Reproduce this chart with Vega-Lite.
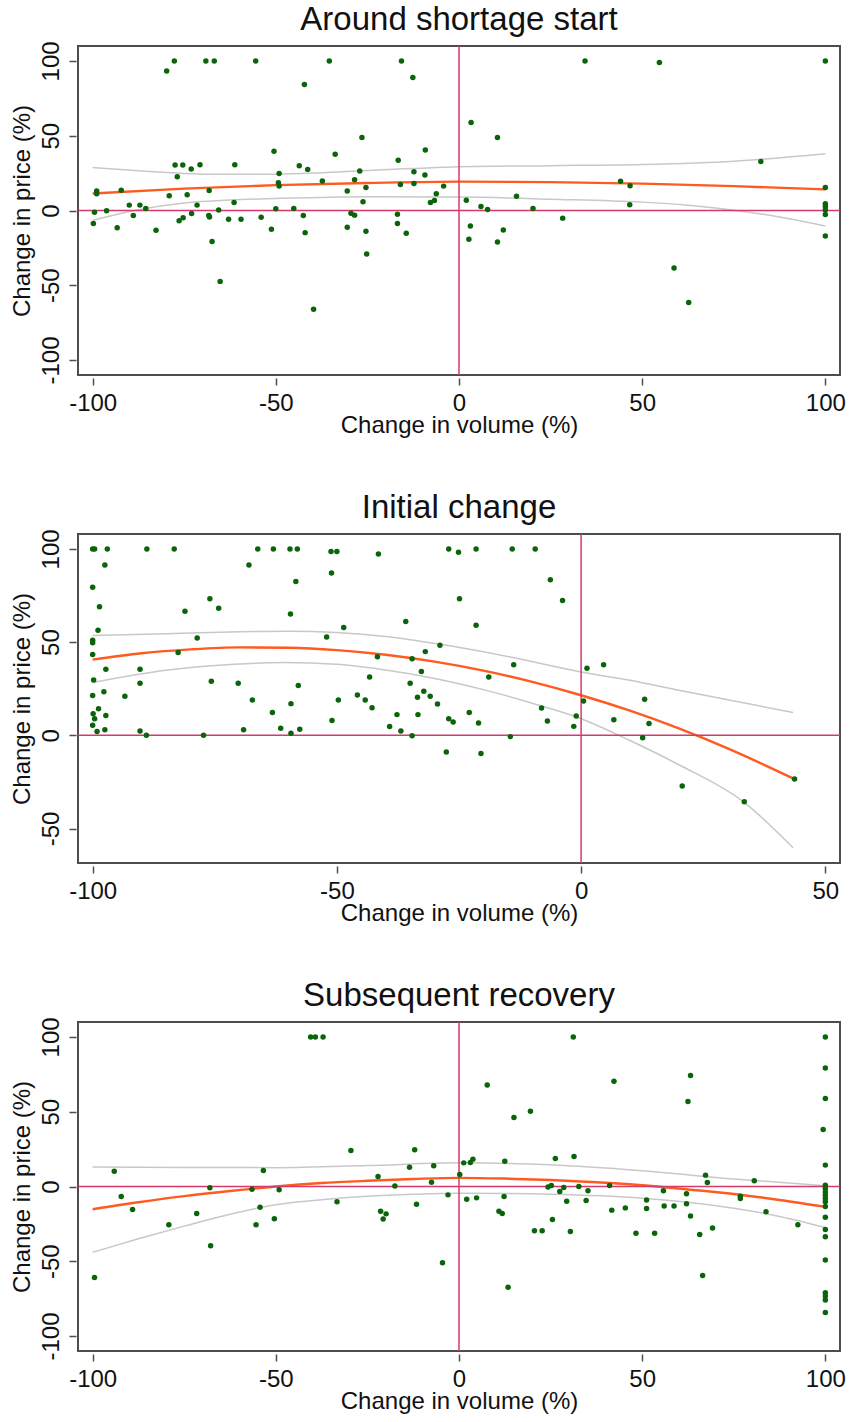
{
  "$schema": "https://vega.github.io/schema/vega-lite/v6.json",
  "padding": {"left": 9, "top": 2, "right": 8, "bottom": 2},
  "spacing": 52,
  "config": {
    "font": "Liberation Sans",
    "view": {"stroke": "#4d4d4d", "strokeWidth": 2},
    "axis": {"grid": false, "domain": false, "tickColor": "#4d4d4d", "tickWidth": 1.5, "tickSize": 7, "labelFontSize": 24, "titleFontSize": 24, "labelColor": "#111", "titleColor": "#111", "titleFontWeight": "normal", "labelFont": "Liberation Sans", "titleFont": "Liberation Sans", "labelOverlap": false, "labelFlush": false, "labelExpr": "replace(datum.label, '\u2212', '-')"},
    "axisX": {"offset": 3, "labelPadding": 6, "titlePadding": -2},
    "axisY": {"offset": 2, "labelAngle": -90, "labelAlign": "center", "labelBaseline": "bottom", "labelPadding": 6, "titlePadding": 5},
    "title": {"fontSize": 33, "fontWeight": "normal", "color": "#111", "font": "Liberation Sans", "offset": 4, "anchor": "middle"}
  },
  "datasets": {
    "p1": [
      {"x":-79.8,"y":93.3},{"x":-77.7,"y":100},{"x":-69.1,"y":100},{"x":-66.8,"y":100},{"x":-55.5,"y":100},{"x":-35.4,"y":100},{"x":-42.2,"y":84.3},{"x":-15.7,"y":100},{"x":-12.6,"y":89},{"x":-26.5,"y":48.8},{"x":-50.5,"y":39.6},{"x":-33.8,"y":37.6},{"x":-9.2,"y":40.5},{"x":-16.6,"y":33.6},{"x":-77.5,"y":30.4},{"x":-75.4,"y":30.4},{"x":-70.7,"y":30.6},{"x":-61.2,"y":30.6},{"x":-43.6,"y":30},{"x":-73.1,"y":27.7},{"x":-41.3,"y":27.5},{"x":-76.9,"y":22.6},{"x":-27.1,"y":26.4},{"x":-49.1,"y":24.8},{"x":-12.3,"y":25.9},{"x":-9.3,"y":23.7},{"x":-37.3,"y":19.7},{"x":-28.5,"y":20.6},{"x":-49.3,"y":18.6},{"x":-49.1,"y":16.3},{"x":-25.4,"y":15.4},{"x":-16,"y":17.4},{"x":-12.3,"y":18.1},{"x":-4.2,"y":16.3},{"x":-98.9,"y":13},{"x":-98.9,"y":11.2},{"x":-92.2,"y":13.6},{"x":-68.2,"y":13.4},{"x":-79.1,"y":9.8},{"x":-74.2,"y":10.5},{"x":-30.5,"y":13},{"x":-6.2,"y":11.2},{"x":-6.7,"y":6.7},{"x":-7.8,"y":5.4},{"x":-26.2,"y":5.8},{"x":-61.4,"y":5.4},{"x":-71.5,"y":3.6},{"x":-90,"y":3.6},{"x":-87.1,"y":3.6},{"x":-85.5,"y":1.3},{"x":-65.6,"y":0.4},{"x":-50,"y":1.1},{"x":-45.1,"y":1.3},{"x":-99.5,"y":-1.1},{"x":-96.2,"y":-0.2},{"x":-88.9,"y":-3.4},{"x":-73,"y":-2},{"x":-68.3,"y":-3.4},{"x":-68.1,"y":-4.3},{"x":-75.3,"y":-4.9},{"x":-76.4,"y":-6.9},{"x":-62.9,"y":-5.8},{"x":-59.5,"y":-5.8},{"x":-54,"y":-4.5},{"x":-42.5,"y":-3.4},{"x":-29.5,"y":-1.8},{"x":-28.5,"y":-3.1},{"x":-16.8,"y":-2.5},{"x":-16.8,"y":-8.7},{"x":-99.8,"y":-8.7},{"x":-93.3,"y":-11.6},{"x":-82.7,"y":-13.2},{"x":-51.2,"y":-12.5},{"x":-42,"y":-14.8},{"x":-30.5,"y":-11.2},{"x":-25.4,"y":-13.9},{"x":-14.4,"y":-15.2},{"x":-67.4,"y":-20.8},{"x":-25.2,"y":-29.1},{"x":-65.2,"y":-47.4},{"x":-39.7,"y":-66},
      {"x":34.4,"y":100},{"x":54.7,"y":98.9},{"x":100,"y":100},{"x":3.3,"y":58.8},{"x":10.5,"y":48.8},{"x":82.4,"y":32.7},{"x":44.1,"y":19.5},{"x":46.7,"y":16.6},{"x":100,"y":15.4},{"x":15.7,"y":9.6},{"x":2,"y":6.9},{"x":46.6,"y":3.8},{"x":6,"y":2.7},{"x":7.8,"y":0.7},{"x":20.2,"y":1.3},{"x":100,"y":4.5},{"x":100,"y":2.7},{"x":100,"y":0.4},{"x":100,"y":-2.7},{"x":28.3,"y":-5.1},{"x":3.1,"y":-10.3},{"x":12.1,"y":-13},{"x":2.7,"y":-19.2},{"x":10.5,"y":-21},{"x":100,"y":-17},{"x":58.7,"y":-38.5},{"x":62.7,"y":-61.5}
    ],
    "f1": [
      {"s":"fit","x":-100,"y":11.4},{"s":"fit","x":-75,"y":14.6},{"s":"fit","x":-50,"y":17},{"s":"fit","x":-25,"y":18.4},{"s":"fit","x":0,"y":19.3},{"s":"fit","x":25,"y":19},{"s":"fit","x":50,"y":18},{"s":"fit","x":75,"y":16.3},{"s":"fit","x":100,"y":14.1},
      {"s":"hi","x":-100,"y":28.7},{"s":"hi","x":-87.5,"y":26.5},{"s":"hi","x":-75,"y":24.8},{"s":"hi","x":-62.5,"y":24.2},{"s":"hi","x":-50,"y":24.3},{"s":"hi","x":-37.5,"y":25.3},{"s":"hi","x":-25,"y":26.8},{"s":"hi","x":-12.5,"y":28.1},{"s":"hi","x":0,"y":29.3},{"s":"hi","x":25,"y":30},{"s":"hi","x":50,"y":30.8},{"s":"hi","x":75,"y":33},{"s":"hi","x":100,"y":38},
      {"s":"lo","x":-100,"y":-6.5},{"s":"lo","x":-87.5,"y":0.5},{"s":"lo","x":-75,"y":5},{"s":"lo","x":-62.5,"y":7},{"s":"lo","x":-50,"y":8},{"s":"lo","x":-25,"y":9.2},{"s":"lo","x":0,"y":9},{"s":"lo","x":25,"y":7.6},{"s":"lo","x":50,"y":5.6},{"s":"lo","x":62.5,"y":3.5},{"s":"lo","x":75,"y":0.2},{"s":"lo","x":87.5,"y":-4.3},{"s":"lo","x":100,"y":-10.3}
    ],
    "p2": [
      {"x":-100,"y":100},{"x":-99.6,"y":100},{"x":-97,"y":100},{"x":-88.9,"y":100},{"x":-83.3,"y":100},{"x":-66.2,"y":100},{"x":-63,"y":100},{"x":-59.6,"y":100},{"x":-58.1,"y":100},{"x":-51.2,"y":98.6},{"x":-50,"y":98.6},{"x":-41.5,"y":97.3},{"x":-97.5,"y":91.4},{"x":-68,"y":91.4},{"x":-51.1,"y":87.1},{"x":-58.4,"y":82.5},{"x":-100,"y":79.4},{"x":-76,"y":73.3},{"x":-98.6,"y":69},{"x":-74.2,"y":68.2},{"x":-81.1,"y":66.5},{"x":-59.5,"y":65.1},{"x":-35.9,"y":61},{"x":-48.6,"y":57.8},{"x":-98.9,"y":56.4},{"x":-52.1,"y":52.8},{"x":-78.6,"y":52.2},{"x":-100,"y":51},{"x":-100,"y":49.6},{"x":-28.9,"y":48.3},{"x":-82.5,"y":44.4},{"x":-100,"y":43.3},{"x":-41.7,"y":42.2},{"x":-34.6,"y":41.1},{"x":-31.9,"y":44.9},{"x":-97.3,"y":35.4},{"x":-90.3,"y":35.4},{"x":-32.7,"y":34.2},{"x":-43.3,"y":31.3},{"x":-75.7,"y":29},{"x":-99.8,"y":29.7},{"x":-90.3,"y":27.9},{"x":-70.2,"y":27.9},{"x":-57.9,"y":26.7},{"x":-35,"y":27.9},{"x":-97.7,"y":23.4},{"x":-32.2,"y":23.6},{"x":-100,"y":21.3},{"x":-93.4,"y":20.9},{"x":-45.8,"y":21.6},{"x":-30.9,"y":20.9},{"x":-33.5,"y":20.4},{"x":-67.3,"y":19},{"x":-49.7,"y":19},{"x":-44.2,"y":19},{"x":-59.4,"y":17},{"x":-29.4,"y":16.8},{"x":-98.8,"y":14.3},{"x":-42.8,"y":14.8},{"x":-63.2,"y":12.3},{"x":-99.9,"y":11.6},{"x":-97.3,"y":10.6},{"x":-37.7,"y":11.1},{"x":-33.4,"y":11.1},{"x":-99.6,"y":8.9},{"x":-51,"y":8},{"x":-100,"y":5.4},{"x":-39.2,"y":4.7},{"x":-69.1,"y":3},{"x":-97.5,"y":3},{"x":-61.5,"y":3.8},{"x":-57.6,"y":3.2},{"x":-99.1,"y":2},{"x":-90.3,"y":2.3},{"x":-36.9,"y":2.3},{"x":-59.4,"y":1.1},{"x":-89,"y":0},{"x":-77.3,"y":0},{"x":-34.6,"y":-0.2},
      {"x":-27.1,"y":100},{"x":-25.1,"y":98.2},{"x":-21.5,"y":100},{"x":-14.1,"y":100},{"x":-9.4,"y":100},{"x":-6.3,"y":83.4},{"x":-24.9,"y":73.3},{"x":-3.8,"y":72.3},{"x":-21.5,"y":59},{"x":-13.8,"y":37.9},{"x":1.2,"y":36},{"x":4.6,"y":37.9},{"x":-18.9,"y":31.3},{"x":-22.9,"y":12.2},{"x":-8.1,"y":14.7},{"x":-27.1,"y":8.9},{"x":-26.2,"y":7.2},{"x":-21,"y":6.6},{"x":-6.9,"y":7.7},{"x":-1.5,"y":4.8},{"x":-1,"y":10.4},{"x":0.5,"y":18.4},{"x":-14.5,"y":-0.7},{"x":-27.6,"y":-8.9},{"x":-20.5,"y":-9.8},{"x":13,"y":19.3},{"x":6.7,"y":8.4},{"x":13.9,"y":6.3},{"x":12.6,"y":-1.3},{"x":20.7,"y":-27.2},{"x":33.4,"y":-35.6},{"x":43.7,"y":-23.4}
    ],
    "f2": [
      {"s":"fit","x":-100,"y":40.6},{"s":"fit","x":-90,"y":44},{"s":"fit","x":-80,"y":46.1},{"s":"fit","x":-70,"y":47.2},{"s":"fit","x":-60,"y":47},{"s":"fit","x":-50,"y":45.7},{"s":"fit","x":-40,"y":43.2},{"s":"fit","x":-30,"y":39.5},{"s":"fit","x":-20,"y":34.7},{"s":"fit","x":-10,"y":28.7},{"s":"fit","x":0,"y":21.5},{"s":"fit","x":10,"y":13.2},{"s":"fit","x":20,"y":3.7},{"s":"fit","x":30,"y":-7},{"s":"fit","x":43.7,"y":-23.5},
      {"s":"hi","x":-100,"y":53.5},{"s":"hi","x":-85,"y":54.5},{"s":"hi","x":-70,"y":55.5},{"s":"hi","x":-60,"y":55.8},{"s":"hi","x":-50,"y":55.1},{"s":"hi","x":-40,"y":53},{"s":"hi","x":-28.8,"y":48.8},{"s":"hi","x":-14.5,"y":42},{"s":"hi","x":0,"y":34},{"s":"hi","x":10,"y":29.5},{"s":"hi","x":20,"y":24.2},{"s":"hi","x":30,"y":19.1},{"s":"hi","x":43.4,"y":12.2},
      {"s":"lo","x":-100,"y":28.3},{"s":"lo","x":-85,"y":34.9},{"s":"lo","x":-71,"y":38.1},{"s":"lo","x":-60.8,"y":39},{"s":"lo","x":-50,"y":38.1},{"s":"lo","x":-40,"y":35},{"s":"lo","x":-30,"y":30.5},{"s":"lo","x":-20,"y":24.5},{"s":"lo","x":-10,"y":17.2},{"s":"lo","x":0,"y":8.9},{"s":"lo","x":10,"y":-2.8},{"s":"lo","x":20,"y":-15.8},{"s":"lo","x":33.3,"y":-35.8},{"s":"lo","x":43.4,"y":-60.3}
    ],
    "p3": [
      {"x":-40.5,"y":100},{"x":-39.2,"y":100},{"x":-37.1,"y":100},{"x":-29.5,"y":24.1},{"x":-12.1,"y":24.5},{"x":-94.1,"y":10.2},{"x":-53.4,"y":10.7},{"x":-6.9,"y":13.8},{"x":-13.5,"y":12.9},{"x":-22.1,"y":6.7},{"x":0.2,"y":8},{"x":-7.5,"y":2.9},{"x":-17.5,"y":0.4},{"x":-68,"y":-0.9},{"x":-56.5,"y":-1.8},{"x":-49.1,"y":-2.2},{"x":-92.2,"y":-6.7},{"x":-3,"y":-5.6},{"x":-33.3,"y":-10.2},{"x":-11.6,"y":-11.8},{"x":-89.1,"y":-15.4},{"x":-54.3,"y":-13.8},{"x":-21.4,"y":-16.5},{"x":-19.9,"y":-18.3},{"x":-20.7,"y":-21.8},{"x":-71.6,"y":-18},{"x":-50.4,"y":-21.6},{"x":-79.2,"y":-25.6},{"x":-55.4,"y":-25.6},{"x":-67.8,"y":-39.6},{"x":-4.5,"y":-51},{"x":-99.5,"y":-60.8},
      {"x":31.2,"y":100},{"x":100,"y":100},{"x":100,"y":79.3},{"x":63.2,"y":74.2},{"x":42.3,"y":70.4},{"x":7.7,"y":67.9},{"x":100,"y":58.8},{"x":62.5,"y":56.8},{"x":19.5,"y":50.3},{"x":15,"y":46.1},{"x":99.4,"y":38.1},{"x":31.4,"y":20},{"x":3.8,"y":18.3},{"x":26.3,"y":18.7},{"x":12.5,"y":16.9},{"x":1.3,"y":15.8},{"x":3.1,"y":16},{"x":100,"y":14.3},{"x":67.3,"y":7.6},{"x":67.8,"y":2.7},{"x":80.6,"y":3.8},{"x":41.1,"y":0.7},{"x":24.3,"y":-0.4},{"x":25.2,"y":0.7},{"x":28.6,"y":-0.7},{"x":32.7,"y":0},{"x":27.5,"y":-3.3},{"x":35.2,"y":-2.9},{"x":55.8,"y":-2.9},{"x":62.1,"y":-4.9},{"x":100,"y":0.9},{"x":100,"y":-1.3},{"x":100,"y":-3.6},{"x":100,"y":-5.8},{"x":100,"y":-8},{"x":100,"y":-10.2},{"x":100,"y":-13.4},{"x":2.1,"y":-8.5},{"x":4.8,"y":-7.6},{"x":12.3,"y":-6.7},{"x":29.4,"y":-9.8},{"x":34.7,"y":-9.4},{"x":76.8,"y":-8},{"x":76.8,"y":-6.5},{"x":51.2,"y":-9.1},{"x":51.2,"y":-14.7},{"x":45.4,"y":-14.3},{"x":56,"y":-13.1},{"x":58.7,"y":-13.1},{"x":41.7,"y":-15.8},{"x":62.1,"y":-11.6},{"x":10.9,"y":-16.5},{"x":11.8,"y":-18},{"x":83.8,"y":-16.9},{"x":63.2,"y":-19.8},{"x":100,"y":-20.5},{"x":25.5,"y":-22},{"x":20.6,"y":-29.6},{"x":22.7,"y":-29.6},{"x":30.4,"y":-30.1},{"x":48.3,"y":-31.2},{"x":53.4,"y":-31.2},{"x":69.2,"y":-27.8},{"x":65.7,"y":-32.1},{"x":92.5,"y":-25.6},{"x":100,"y":-28.7},{"x":100,"y":-33.6},{"x":100,"y":-49.2},{"x":66.5,"y":-59.5},{"x":13.4,"y":-67.3},{"x":100,"y":-71},{"x":100,"y":-73.3},{"x":100,"y":-75.9},{"x":100,"y":-84.2}
    ],
    "f3": [
      {"s":"fit","x":-100,"y":-15.2},{"s":"fit","x":-87.5,"y":-10.5},{"s":"fit","x":-75,"y":-6.4},{"s":"fit","x":-62.5,"y":-3},{"s":"fit","x":-50,"y":0},{"s":"fit","x":-37.5,"y":2.3},{"s":"fit","x":-25,"y":3.8},{"s":"fit","x":-12.5,"y":5},{"s":"fit","x":0,"y":5.8},{"s":"fit","x":12.5,"y":5.3},{"s":"fit","x":25,"y":4.3},{"s":"fit","x":37.5,"y":2.8},{"s":"fit","x":50,"y":0.8},{"s":"fit","x":62.5,"y":-2},{"s":"fit","x":75,"y":-5},{"s":"fit","x":87.5,"y":-9},{"s":"fit","x":100,"y":-13.6},
      {"s":"hi","x":-100,"y":13.1},{"s":"hi","x":-75,"y":12.7},{"s":"hi","x":-50,"y":12.6},{"s":"hi","x":-25,"y":14},{"s":"hi","x":0,"y":15.8},{"s":"hi","x":25,"y":14.5},{"s":"hi","x":50,"y":10.5},{"s":"hi","x":75,"y":5},{"s":"hi","x":100,"y":0.5},
      {"s":"lo","x":-100,"y":-44},{"s":"lo","x":-87.5,"y":-35},{"s":"lo","x":-75,"y":-26.5},{"s":"lo","x":-62.5,"y":-18.5},{"s":"lo","x":-50,"y":-12.2},{"s":"lo","x":-37.5,"y":-8.8},{"s":"lo","x":-25,"y":-6.5},{"s":"lo","x":-12.5,"y":-5.2},{"s":"lo","x":0,"y":-4.5},{"s":"lo","x":25,"y":-5.2},{"s":"lo","x":50,"y":-7.8},{"s":"lo","x":62.5,"y":-10.5},{"s":"lo","x":75,"y":-14.5},{"s":"lo","x":87.5,"y":-20},{"s":"lo","x":100,"y":-27.4}
    ]
  },
  "vconcat": [
    {
      "width": 762, "height": 329,
      "title": "Around shortage start",
      "layer": [
        {"data": {"name": "f1"}, "transform": [{"filter": "datum.s != 'fit'"}], "mark": {"type": "line", "color": "#c8c8c8", "strokeWidth": 1.5, "interpolate": "monotone"},
         "encoding": {"x": {"field": "x", "type": "quantitative", "scale": {"domain": [-104, 104], "nice": false, "zero": false}, "axis": {"values": [-100, -50, 0, 50, 100], "title": "Change in volume (%)"}},
                      "y": {"field": "y", "type": "quantitative", "scale": {"domain": [-110, 110], "nice": false, "zero": false}, "axis": {"values": [-100, -50, 0, 50, 100], "title": "Change in price (%)"}},
                      "detail": {"field": "s"}}},
        {"data": {"name": "f1"}, "transform": [{"filter": "datum.s == 'fit'"}], "mark": {"type": "line", "color": "#ff5a1f", "strokeWidth": 2.4, "interpolate": "monotone"},
         "encoding": {"x": {"field": "x", "type": "quantitative"}, "y": {"field": "y", "type": "quantitative"}}},
        {"data": {"values": [{}]}, "mark": {"type": "rule", "color": "#d43a6c", "strokeWidth": 1.5}, "encoding": {"x": {"datum": 0, "type": "quantitative"}}},
        {"data": {"values": [{}]}, "mark": {"type": "rule", "color": "#d43a6c", "strokeWidth": 1.5}, "encoding": {"y": {"datum": 0, "type": "quantitative"}}},
        {"data": {"name": "p1"}, "mark": {"type": "circle", "color": "#0a640a", "size": 30, "opacity": 1},
         "encoding": {"x": {"field": "x", "type": "quantitative"}, "y": {"field": "y", "type": "quantitative"}}}
      ]
    },
    {
      "width": 762, "height": 329,
      "title": "Initial change",
      "layer": [
        {"data": {"name": "f2"}, "transform": [{"filter": "datum.s != 'fit'"}], "mark": {"type": "line", "color": "#c8c8c8", "strokeWidth": 1.5, "interpolate": "monotone"},
         "encoding": {"x": {"field": "x", "type": "quantitative", "scale": {"domain": [-103, 53], "nice": false, "zero": false}, "axis": {"values": [-100, -50, 0, 50], "title": "Change in volume (%)"}},
                      "y": {"field": "y", "type": "quantitative", "scale": {"domain": [-68.5, 108], "nice": false, "zero": false}, "axis": {"values": [-50, 0, 50, 100], "title": "Change in price (%)"}},
                      "detail": {"field": "s"}}},
        {"data": {"name": "f2"}, "transform": [{"filter": "datum.s == 'fit'"}], "mark": {"type": "line", "color": "#ff5a1f", "strokeWidth": 2.4, "interpolate": "monotone"},
         "encoding": {"x": {"field": "x", "type": "quantitative"}, "y": {"field": "y", "type": "quantitative"}}},
        {"data": {"values": [{}]}, "mark": {"type": "rule", "color": "#d43a6c", "strokeWidth": 1.5}, "encoding": {"x": {"datum": 0, "type": "quantitative"}}},
        {"data": {"values": [{}]}, "mark": {"type": "rule", "color": "#d43a6c", "strokeWidth": 1.5}, "encoding": {"y": {"datum": 0, "type": "quantitative"}}},
        {"data": {"name": "p2"}, "mark": {"type": "circle", "color": "#0a640a", "size": 30, "opacity": 1},
         "encoding": {"x": {"field": "x", "type": "quantitative"}, "y": {"field": "y", "type": "quantitative"}}}
      ]
    },
    {
      "width": 762, "height": 329,
      "title": "Subsequent recovery",
      "layer": [
        {"data": {"name": "f3"}, "transform": [{"filter": "datum.s != 'fit'"}], "mark": {"type": "line", "color": "#c8c8c8", "strokeWidth": 1.5, "interpolate": "monotone"},
         "encoding": {"x": {"field": "x", "type": "quantitative", "scale": {"domain": [-104, 104], "nice": false, "zero": false}, "axis": {"values": [-100, -50, 0, 50, 100], "title": "Change in volume (%)"}},
                      "y": {"field": "y", "type": "quantitative", "scale": {"domain": [-110, 110], "nice": false, "zero": false}, "axis": {"values": [-100, -50, 0, 50, 100], "title": "Change in price (%)"}},
                      "detail": {"field": "s"}}},
        {"data": {"name": "f3"}, "transform": [{"filter": "datum.s == 'fit'"}], "mark": {"type": "line", "color": "#ff5a1f", "strokeWidth": 2.4, "interpolate": "monotone"},
         "encoding": {"x": {"field": "x", "type": "quantitative"}, "y": {"field": "y", "type": "quantitative"}}},
        {"data": {"values": [{}]}, "mark": {"type": "rule", "color": "#d43a6c", "strokeWidth": 1.5}, "encoding": {"x": {"datum": 0, "type": "quantitative"}}},
        {"data": {"values": [{}]}, "mark": {"type": "rule", "color": "#d43a6c", "strokeWidth": 1.5}, "encoding": {"y": {"datum": 0, "type": "quantitative"}}},
        {"data": {"name": "p3"}, "mark": {"type": "circle", "color": "#0a640a", "size": 30, "opacity": 1},
         "encoding": {"x": {"field": "x", "type": "quantitative"}, "y": {"field": "y", "type": "quantitative"}}}
      ]
    }
  ]
}
